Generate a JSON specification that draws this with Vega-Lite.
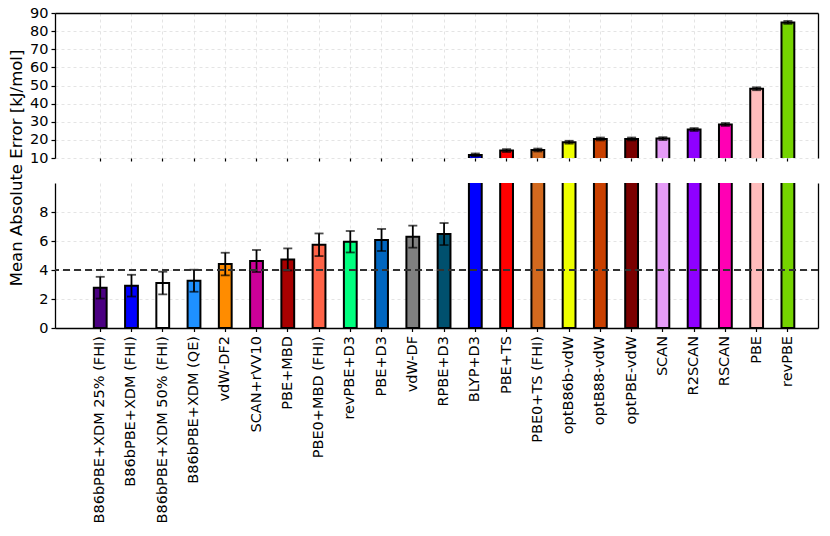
{
  "$schema": "https://vega.github.io/schema/vega-lite/v6.json",
  "padding": {"left": 7, "top": 5, "right": 5, "bottom": 5},
  "bounds": "flush",
  "spacing": 25,
  "background": "white",
  "datasets": {
    "mae": [
      {"name": "B86bPBE+XDM 25% (FHI)", "value": 2.78, "err": 0.75},
      {"name": "B86bPBE+XDM (FHI)", "value": 2.92, "err": 0.75},
      {"name": "B86bPBE+XDM 50% (FHI)", "value": 3.1, "err": 0.78},
      {"name": "B86bPBE+XDM (QE)", "value": 3.26, "err": 0.76},
      {"name": "vdW-DF2", "value": 4.41, "err": 0.78},
      {"name": "SCAN+rVV10", "value": 4.62, "err": 0.76},
      {"name": "PBE+MBD", "value": 4.73, "err": 0.76},
      {"name": "PBE0+MBD (FHI)", "value": 5.74, "err": 0.78},
      {"name": "revPBE+D3", "value": 5.95, "err": 0.74},
      {"name": "PBE+D3", "value": 6.07, "err": 0.76},
      {"name": "vdW-DF", "value": 6.3, "err": 0.76},
      {"name": "RPBE+D3", "value": 6.48, "err": 0.76},
      {"name": "BLYP+D3", "value": 11.7, "err": 0.8},
      {"name": "PBE+TS", "value": 14.1, "err": 0.8},
      {"name": "PBE0+TS (FHI)", "value": 14.4, "err": 0.8},
      {"name": "optB86b-vdW", "value": 18.7, "err": 0.8},
      {"name": "optB88-vdW", "value": 20.5, "err": 0.8},
      {"name": "optPBE-vdW", "value": 20.5, "err": 0.8},
      {"name": "SCAN", "value": 20.7, "err": 0.8},
      {"name": "R2SCAN", "value": 25.7, "err": 0.8},
      {"name": "RSCAN", "value": 28.5, "err": 0.8},
      {"name": "PBE", "value": 48.2, "err": 0.8},
      {"name": "revPBE", "value": 84.8, "err": 0.8}
    ]
  },
  "data": {"name": "mae"},
  "vconcat": [
    {
      "width": 763,
      "height": 145,
      "layer": [
        {
          "mark": {"type": "bar", "stroke": "black", "strokeWidth": 2, "clip": true},
          "encoding": {
            "x": {"field": "name", "type": "nominal", "sort": null,
              "scale": {"paddingInner": 0.59, "paddingOuter": 1.05, "align": 0.621},
              "axis": {"orient": "bottom", "labels": false, "domain": false, "ticks": true, "tickSize": 3, "grid": true, "title": null}},
            "y": {"field": "value", "type": "quantitative",
              "scale": {"domain": [10, 90], "nice": false, "zero": false},
              "axis": {"values": [10, 20, 30, 40, 50, 60, 70, 80, 90], "title": null, "grid": true, "domain": true}},
            "color": {"field": "name", "type": "nominal", "legend": null,
              "scale": {
                "domain": ["B86bPBE+XDM 25% (FHI)", "B86bPBE+XDM (FHI)", "B86bPBE+XDM 50% (FHI)", "B86bPBE+XDM (QE)", "vdW-DF2", "SCAN+rVV10", "PBE+MBD", "PBE0+MBD (FHI)", "revPBE+D3", "PBE+D3", "vdW-DF", "RPBE+D3", "BLYP+D3", "PBE+TS", "PBE0+TS (FHI)", "optB86b-vdW", "optB88-vdW", "optPBE-vdW", "SCAN", "R2SCAN", "RSCAN", "PBE", "revPBE"],
                "range": ["#4b0082", "#0000ff", "#ffffff", "#1e90ff", "#ff8c00", "#cc0099", "#a80000", "#ff6347", "#00ff7f", "#0066c0", "#808080", "#00506e", "#0000ff", "#ff0000", "#d2691e", "#eeff00", "#c84000", "#7a0000", "#e59bf7", "#8f00ff", "#ff00b4", "#ffbcbc", "#75d400"]
              }}
          }
        },
        {
          "transform": [{"filter": "datum.value > 10"}],
          "mark": {"type": "errorbar", "ticks": {"size": 9, "thickness": 1.8, "color": "black"}, "rule": {"strokeWidth": 1.8, "color": "black"}},
          "encoding": {
            "x": {"field": "name", "type": "nominal", "sort": null, "axis": null},
            "y": {"field": "value", "type": "quantitative", "scale": {"domain": [10, 90], "nice": false, "zero": false}, "axis": null},
            "yError": {"field": "err"}
          }
        },
        {
          "mark": {"type": "bar", "opacity": 0, "clip": true},
          "encoding": {
            "x": {"field": "name", "type": "nominal", "sort": null,
              "axis": {"orient": "top", "labels": false, "ticks": false, "grid": false, "domain": true, "title": null}},
            "y": {"field": "value", "type": "quantitative", "scale": {"domain": [10, 90], "nice": false, "zero": false},
              "axis": {"orient": "right", "labels": false, "ticks": false, "grid": false, "domain": true, "title": null}}
          }
        }
      ],
      "resolve": {"axis": {"x": "independent", "y": "independent"}}
    },
    {
      "width": 763,
      "height": 145,
      "layer": [
        {
          "mark": {"type": "bar", "stroke": "black", "strokeWidth": 2, "clip": true},
          "encoding": {
            "x": {"field": "name", "type": "nominal", "sort": null,
              "scale": {"paddingInner": 0.59, "paddingOuter": 1.05, "align": 0.621},
              "axis": {"orient": "bottom", "labelAngle": -90, "labelAlign": "right", "labelBaseline": "middle", "labelPadding": 4, "labelLimit": 0, "domain": true, "ticks": true, "tickSize": 3.5, "grid": true, "title": null}},
            "y": {"field": "value", "type": "quantitative",
              "scale": {"domain": [0, 10], "nice": false},
              "axis": {"values": [0, 2, 4, 6, 8], "grid": true, "domain": true, "title": "Mean Absolute Error [kJ/mol]", "titleX": -39, "titleY": -15.5, "titleAlign": "center", "titleBaseline": "middle", "titleAngle": 270}},
            "color": {"field": "name", "type": "nominal", "legend": null,
              "scale": {
                "domain": ["B86bPBE+XDM 25% (FHI)", "B86bPBE+XDM (FHI)", "B86bPBE+XDM 50% (FHI)", "B86bPBE+XDM (QE)", "vdW-DF2", "SCAN+rVV10", "PBE+MBD", "PBE0+MBD (FHI)", "revPBE+D3", "PBE+D3", "vdW-DF", "RPBE+D3", "BLYP+D3", "PBE+TS", "PBE0+TS (FHI)", "optB86b-vdW", "optB88-vdW", "optPBE-vdW", "SCAN", "R2SCAN", "RSCAN", "PBE", "revPBE"],
                "range": ["#4b0082", "#0000ff", "#ffffff", "#1e90ff", "#ff8c00", "#cc0099", "#a80000", "#ff6347", "#00ff7f", "#0066c0", "#808080", "#00506e", "#0000ff", "#ff0000", "#d2691e", "#eeff00", "#c84000", "#7a0000", "#e59bf7", "#8f00ff", "#ff00b4", "#ffbcbc", "#75d400"]
              }}
          }
        },
        {
          "transform": [{"filter": "datum.value < 10"}],
          "mark": {"type": "errorbar", "ticks": {"size": 9, "thickness": 1.8, "color": "black"}, "rule": {"strokeWidth": 1.8, "color": "black"}},
          "encoding": {
            "x": {"field": "name", "type": "nominal", "sort": null},
            "y": {"field": "value", "type": "quantitative", "scale": {"domain": [0, 10], "nice": false}, "axis": null},
            "yError": {"field": "err"}
          }
        },
        {
          "mark": {"type": "rule", "color": "#333333", "strokeWidth": 1.5, "strokeDash": [7, 4]},
          "encoding": {"y": {"datum": 4, "type": "quantitative", "axis": null}}
        },
        {
          "mark": {"type": "bar", "opacity": 0, "clip": true},
          "encoding": {
            "x": {"field": "name", "type": "nominal", "sort": null},
            "y": {"field": "value", "type": "quantitative", "scale": {"domain": [0, 10], "nice": false},
              "axis": {"orient": "right", "labels": false, "ticks": false, "grid": false, "domain": true, "title": null}}
          }
        }
      ],
      "resolve": {"axis": {"y": "independent"}}
    }
  ],
  "config": {
    "font": "DejaVu Sans",
    "view": {"stroke": null},
    "axis": {
      "labelFont": "DejaVu Sans", "labelFontSize": 14.5, "labelColor": "black",
      "titleFont": "DejaVu Sans", "titleFontSize": 16.5, "titleColor": "black", "titleFontWeight": "normal",
      "domainColor": "black", "domainWidth": 1.3, "tickColor": "black", "tickWidth": 1.2, "tickSize": 4,
      "labelPadding": 3, "gridColor": "#dddddd", "gridDash": [3, 3], "gridWidth": 0.8
    }
  }
}
